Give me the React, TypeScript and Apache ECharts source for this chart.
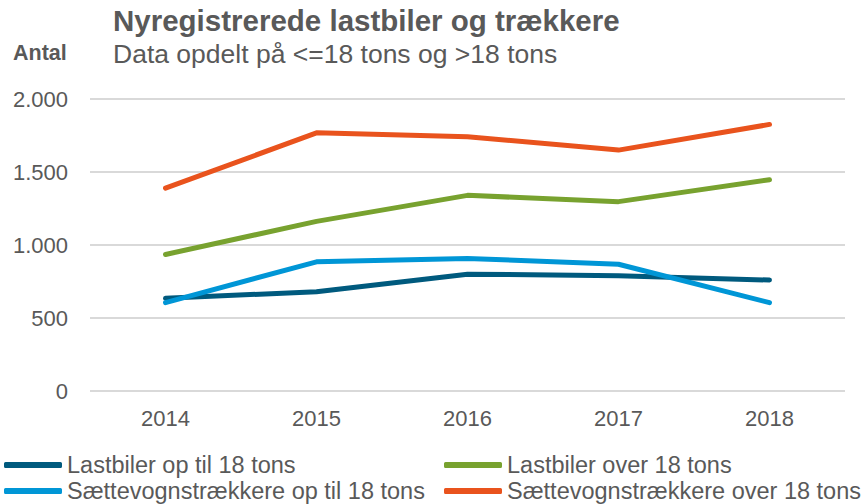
import React, { useEffect, useRef } from "react";
import * as echarts from "echarts";

const years = ["2014", "2015", "2016", "2017", "2018"];
const lastbilerOpTil18 = [635, 680, 800, 790, 760];
const lastbilerOver18 = [935, 1162, 1340, 1297, 1447];
const saettevognOpTil18 = [605, 885, 908, 868, 605];
const saettevognOver18 = [1389, 1768, 1742, 1650, 1826];

const seriesNames = [
  "Lastbiler op til 18 tons",
  "Lastbiler over 18 tons",
  "Sættevognstrækkere op til 18 tons",
  "Sættevognstrækkere over 18 tons",
];
const colors = ["#005A7E", "#78A22F", "#0096D6", "#E9531D"];
const yTicks = { min: 0, max: 2000, interval: 500 };

const TEXT = "#595959";
const FONT = "'Liberation Sans', Arial, sans-serif";

export default function App() {
  const ref = useRef<HTMLDivElement>(null);
  useEffect(() => {
    if (!ref.current) return;
    const chart = echarts.init(ref.current, undefined, { renderer: "svg" });
    const data = [lastbilerOpTil18, lastbilerOver18, saettevognOpTil18, saettevognOver18];
    const legendStyle = {
      orient: "horizontal" as const,
      itemWidth: 58,
      itemHeight: 6,
      padding: 0,
      icon: "roundRect",
      textStyle: { color: TEXT, fontSize: 23.5, lineHeight: 22, fontFamily: FONT },
    };
    const legendPos = [
      { left: 4, top: 453 },
      { left: 444, top: 453 },
      { left: 4, top: 479 },
      { left: 444, top: 479 },
    ];
    chart.setOption({
      animation: false,
      textStyle: { fontFamily: FONT },
      grid: { left: 90, right: 19, top: 99, bottom: 113 },
      graphic: [
        {
          type: "text",
          left: 113,
          top: 5,
          style: { text: "Nyregistrerede lastbiler og trækkere", fill: TEXT, font: `bold 29.5px ${FONT}` },
        },
        {
          type: "text",
          left: 113,
          top: 40,
          style: { text: "Data opdelt på <=18 tons og >18 tons", fill: TEXT, font: `26.5px ${FONT}` },
        },
        {
          type: "text",
          left: 13,
          top: 42,
          style: { text: "Antal", fill: TEXT, font: `bold 21.5px ${FONT}` },
        },
      ],
      legend: seriesNames.map((name, i) => ({ ...legendStyle, ...legendPos[i], data: [name] })),
      xAxis: {
        type: "category",
        data: years,
        boundaryGap: true,
        axisLine: { show: false },
        axisTick: { show: false },
        axisLabel: { color: TEXT, fontSize: 22, fontFamily: FONT, margin: 16 },
      },
      yAxis: {
        type: "value",
        min: yTicks.min,
        max: yTicks.max,
        interval: yTicks.interval,
        axisLine: { show: false },
        axisTick: { show: false },
        splitLine: { lineStyle: { color: "#D9D9D9", width: 2 } },
        axisLabel: {
          color: TEXT,
          fontSize: 22,
          fontFamily: FONT,
          margin: 22,
          formatter: (v: number) => v.toLocaleString("de-DE"),
        },
      },
      series: seriesNames.map((name, i) => ({
        name,
        type: "line",
        data: data[i],
        color: colors[i],
        symbol: "none",
        lineStyle: { width: 5, cap: "round", join: "round" },
      })),
    });
    return () => chart.dispose();
  }, []);
  return (
    <div
      ref={ref}
      style={{ position: "absolute", left: 0, top: 0, width: 864, height: 504 }}
    />
  );
}
